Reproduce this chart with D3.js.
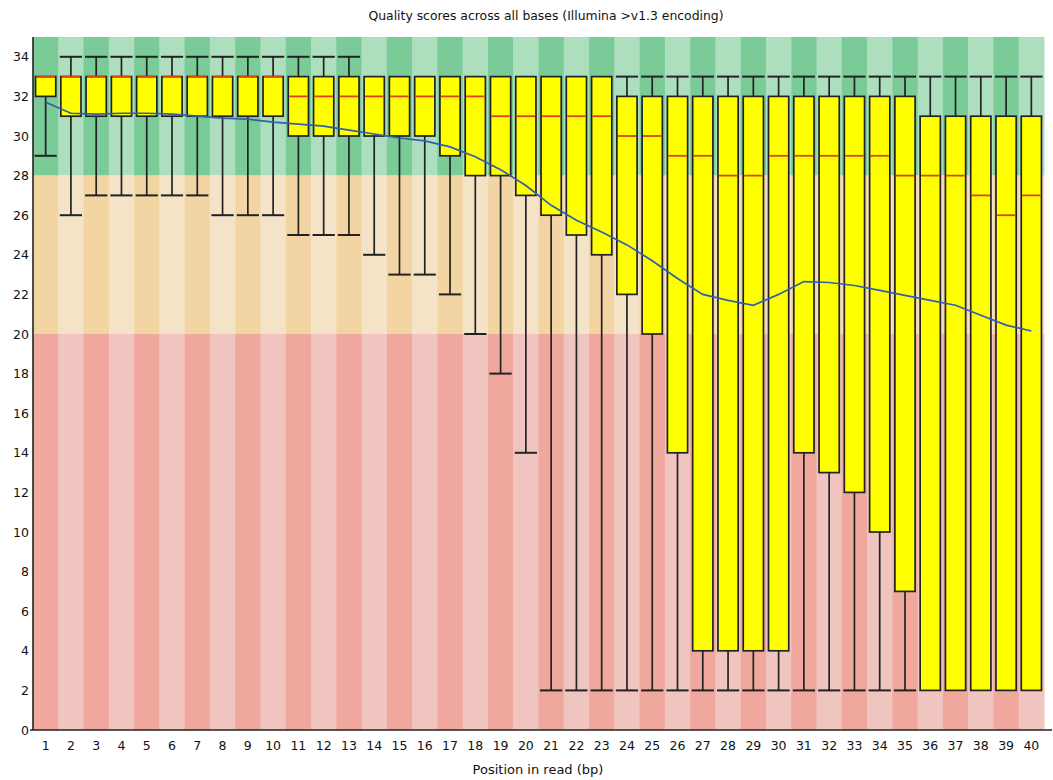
<!DOCTYPE html>
<html>
<head>
<meta charset="utf-8">
<script src="https://cdn.jsdelivr.net/npm/d3@7"></script>
<style>
  html, body { margin: 0; padding: 0; background: #fff; }
  svg { display: block; }
  text { font-family: "DejaVu Sans", Verdana, sans-serif; fill: #111; }
</style>
</head>
<body>
<svg id="chart" width="1053" height="780"></svg>
<script>
// Per-base quality distribution (FastQC style box plot)
const positions = ["1","2","3","4","5","6","7","8","9","10","11","12","13","14","15","16","17","18","19","20",
                   "21","22","23","24","25","26","27","28","29","30","31","32","33","34","35","36","37","38","39","40"];

const lowerWhisker = [29,26,27,27,27,27,27,26,26,26,25,25,25,24,23,23,22,20,18,14,
                      2,2,2,2,2,2,2,2,2,2,2,2,2,2,2,2,2,2,2,2];
const lowerQuartile = [32,31,31,31,31,31,31,31,31,31,30,30,30,30,30,30,29,28,28,27,
                       26,25,24,22,20,14,4,4,4,4,14,13,12,10,7,2,2,2,2,2];
const medians = [33,33,33,33,33,33,33,33,33,33,32,32,32,32,32,32,32,32,31,31,
                 31,31,31,30,30,29,29,28,28,29,29,29,29,29,28,28,28,27,26,27];
const upperQuartile = [33,33,33,33,33,33,33,33,33,33,33,33,33,33,33,33,33,33,33,33,
                       33,33,33,32,32,32,32,32,32,32,32,32,32,32,32,31,31,31,31,31];
const upperWhisker = [33,34,34,34,34,34,34,34,34,34,34,34,34,33,33,33,33,33,33,33,
                      33,33,33,33,33,33,33,33,33,33,33,33,33,33,33,33,33,33,33,33];
const means = [31.7,31.15,31.1,31.15,31.15,31.1,31.0,30.9,30.85,30.7,30.6,30.5,30.3,30.1,29.9,29.75,29.45,28.95,28.3,27.5,
               26.5,25.75,25.15,24.5,23.7,22.8,22.0,21.7,21.45,22.0,22.65,22.6,22.45,22.2,21.95,21.7,21.45,20.95,20.45,20.15];

const yTicks = [0,2,4,6,8,10,12,14,16,18,20,22,24,26,28,30,32,34];

// Quality zones: good / reasonable / poor
const zones = [
  { from: 28, to: 35, dark: "#7acb98", light: "#addfbe" },
  { from: 20, to: 28, dark: "#f3d5a3", light: "#f5e3c8" },
  { from: 0,  to: 20, dark: "#f0a79d", light: "#f0c5c0" }
];

const titleText = "Quality scores across all bases (Illumina >v1.3 encoding)";
const xTitleText = "Position in read (bp)";

const svg = d3.select("#chart");
const plotLeft = 33, plotRight = 1044, plotTop = 37, plotBottom = 730;

const x = d3.scaleBand().domain(positions).range([plotLeft, plotRight]).padding(0);
const y = d3.scaleLinear().domain([0, 35]).range([plotBottom, plotTop]);

const rows = positions.map((p, i) => ({
  pos: p, i,
  lo: lowerWhisker[i], q1: lowerQuartile[i], med: medians[i],
  q3: upperQuartile[i], hi: upperWhisker[i], mean: means[i]
}));

// striped background
const bg = svg.append("g");
zones.forEach(z => {
  bg.selectAll(null).data(rows).join("rect")
    .attr("x", d => x(d.pos))
    .attr("width", x.bandwidth() + 0.5)
    .attr("y", y(z.to))
    .attr("height", y(z.from) - y(z.to))
    .attr("fill", d => d.i % 2 === 0 ? z.dark : z.light);
});

// boxes and whiskers
const bw = x.bandwidth() * 0.8;
const g = svg.append("g");
const cx = d => x(d.pos) + x.bandwidth() / 2;
const stroke = "#222";

g.selectAll(".whisk-up").data(rows).join("line")
  .attr("x1", cx).attr("x2", cx)
  .attr("y1", d => y(d.q3)).attr("y2", d => y(d.hi))
  .attr("stroke", stroke).attr("stroke-width", 1.7);
g.selectAll(".whisk-down").data(rows).join("line")
  .attr("x1", cx).attr("x2", cx)
  .attr("y1", d => y(d.q1)).attr("y2", d => y(d.lo))
  .attr("stroke", stroke).attr("stroke-width", 1.7);
g.selectAll(".cap-up").data(rows.filter(d => d.hi > d.q3)).join("line")
  .attr("x1", d => cx(d) - bw / 2 - 1).attr("x2", d => cx(d) + bw / 2 + 1)
  .attr("y1", d => y(d.hi)).attr("y2", d => y(d.hi))
  .attr("stroke", stroke).attr("stroke-width", 2);
g.selectAll(".cap-down").data(rows.filter(d => d.lo < d.q1)).join("line")
  .attr("x1", d => cx(d) - bw / 2 - 1).attr("x2", d => cx(d) + bw / 2 + 1)
  .attr("y1", d => y(d.lo)).attr("y2", d => y(d.lo))
  .attr("stroke", stroke).attr("stroke-width", 2);

g.selectAll(".box").data(rows).join("rect")
  .attr("x", d => cx(d) - bw / 2)
  .attr("width", bw)
  .attr("y", d => y(d.q3))
  .attr("height", d => y(d.q1) - y(d.q3))
  .attr("fill", "#ffff00")
  .attr("stroke", stroke).attr("stroke-width", 1.7);

g.selectAll(".median").data(rows).join("line")
  .attr("x1", d => cx(d) - bw / 2 + 0.9).attr("x2", d => cx(d) + bw / 2 - 0.9)
  .attr("y1", d => y(d.med)).attr("y2", d => y(d.med))
  .attr("stroke", "#e0401a").attr("stroke-width", 1.8);

// mean line
svg.append("path")
  .datum(rows)
  .attr("fill", "none")
  .attr("stroke", "#2f5fae")
  .attr("stroke-width", 1.7)
  .attr("d", d3.line().x(cx).y(d => y(d.mean)));

// axes lines
svg.append("line").attr("x1", plotLeft).attr("x2", plotLeft).attr("y1", plotTop).attr("y2", plotBottom)
  .attr("stroke", "#222").attr("stroke-width", 1.6);
svg.append("line").attr("x1", plotLeft - 3).attr("x2", 1052).attr("y1", plotBottom).attr("y2", plotBottom)
  .attr("stroke", "#222").attr("stroke-width", 1.6);

// y tick labels
svg.append("g").selectAll("text").data(yTicks).join("text")
  .attr("x", 29).attr("y", d => y(d)).attr("dy", "0.36em")
  .attr("text-anchor", "end")
  .attr("font-size", 12.5)
  .text(d => d);

// x tick labels
svg.append("g").selectAll("text").data(positions).join("text")
  .attr("x", d => x(d) + x.bandwidth() / 2).attr("y", 750)
  .attr("text-anchor", "middle")
  .attr("font-size", 12.5)
  .text(d => d);

svg.append("text").attr("x", 546).attr("y", 20).attr("text-anchor", "middle")
  .attr("font-size", 12.4).text(titleText);
svg.append("text").attr("x", 538).attr("y", 774).attr("text-anchor", "middle")
  .attr("font-size", 13).text(xTitleText);
</script>
</body>
</html>
